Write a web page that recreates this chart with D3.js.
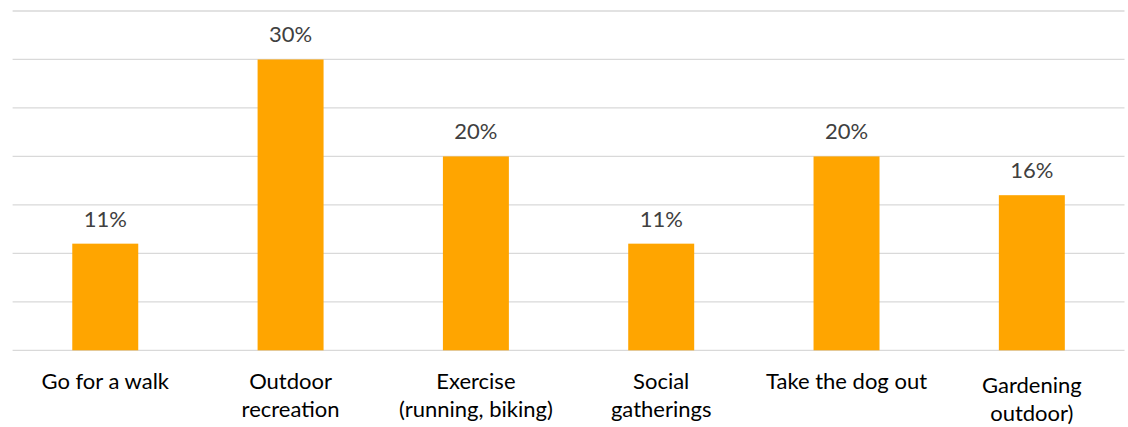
<!DOCTYPE html>
<html>
<head>
<meta charset="utf-8">
<script src="https://cdn.jsdelivr.net/npm/d3@7"></script>
<style>
  html, body { margin: 0; padding: 0; background: #fff; }
  svg { display: block; }
</style>
</head>
<body>
<svg id="chart" width="1128" height="427"></svg>
<script>
// Share of respondents by outdoor activity
const categories = [
  ["Go for a walk"],
  ["Outdoor", "recreation"],
  ["Exercise", "(running, biking)"],
  ["Social", "gatherings"],
  ["Take the dog out"],
  ["Gardening", "outdoor)"]
];
const values = [11, 30, 20, 11, 20, 16];
const tickValues = [0, 5, 10, 15, 20, 25, 30, 35];

const width = 1128, height = 427;
const margin = { top: 11, right: 3.5, bottom: 76.7, left: 12.6 };
const font = "Lato, 'Open Sans', sans-serif";

const svg = d3.select("#chart");

const x = d3.scaleBand()
  .domain(d3.range(values.length))
  .range([margin.left, width - margin.right])
  .paddingInner(0.644)
  .paddingOuter(0.322);

const y = d3.scaleLinear()
  .domain([0, 35])
  .range([height - margin.bottom, margin.top]);

// horizontal gridlines
svg.append("g")
  .selectAll("line")
  .data(tickValues)
  .join("line")
  .attr("x1", margin.left)
  .attr("x2", width - margin.right)
  .attr("y1", d => y(d))
  .attr("y2", d => y(d))
  .attr("stroke", "#d9d9d9")
  .attr("stroke-width", 1.3);

// bars
svg.append("g")
  .selectAll("rect")
  .data(values)
  .join("rect")
  .attr("x", (d, i) => x(i))
  .attr("width", x.bandwidth())
  .attr("y", d => y(d))
  .attr("height", d => y(0) - y(d))
  .attr("fill", "#FFA500");

// value labels
svg.append("g")
  .selectAll("text")
  .data(values)
  .join("text")
  .attr("x", (d, i) => x(i) + x.bandwidth() / 2)
  .attr("y", d => y(d) - 17)
  .attr("text-anchor", "middle")
  .attr("font-family", font)
  .attr("font-size", 22)
  .attr("fill", "#404040")
  .text(d => d + "%");

// category labels
const labels = svg.append("g")
  .selectAll("text")
  .data(categories)
  .join("text")
  .attr("x", (d, i) => x(i) + x.bandwidth() / 2)
  .attr("y", (d, i) => y(0) + 39 + (i === 5 ? 4 : 0))
  .attr("text-anchor", "middle")
  .attr("font-family", font)
  .attr("font-size", 22)
  .attr("fill", "#000");

labels.selectAll("tspan")
  .data(d => d)
  .join("tspan")
  .attr("x", function () { return d3.select(this.parentNode).attr("x"); })
  .attr("dy", (d, j) => j === 0 ? 0 : 28)
  .text(d => d);
</script>
</body>
</html>
